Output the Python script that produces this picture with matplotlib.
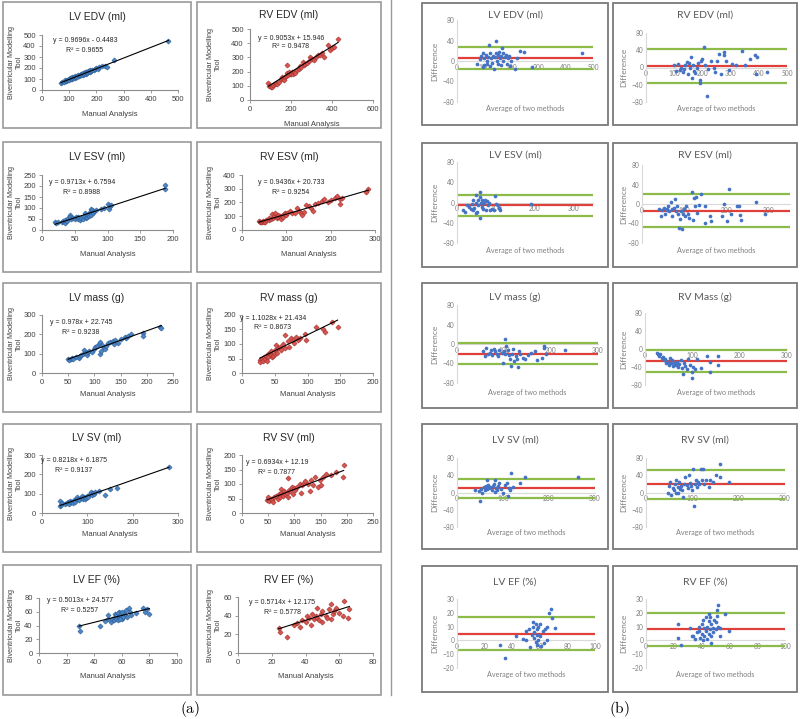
import matplotlib
matplotlib.use('Agg')
import matplotlib.pyplot as plt
from matplotlib.patches import Rectangle
from matplotlib.lines import Line2D

W, H = 800, 719
plt.rcParams['mathtext.fontset'] = 'cm'
plt.rcParams['font.family'] = ['Liberation Sans', 'DejaVu Sans']
fig = plt.figure(figsize=(8, 7.19), dpi=100)

# ---------------- DATA : regression panels (a) ----------------
lv_edv_manual = [70,72,80,85,88,90,92,95,98,100,102,105,108,110,112,115,118,120,122,125,128,130,132,135,138,140,142,145,148,150,152,155,158,160,162,165,168,170,172,175,178,180,185,190,195,200,205,210,220,230,240,265,465]
lv_edv_model = [65,75,72,90,80,85,95,88,100,92,105,98,110,100,115,108,120,112,125,118,130,122,135,128,140,132,145,138,150,140,155,148,160,150,165,158,170,162,175,168,180,172,180,185,190,200,195,205,215,220,210,275,445]
rv_edv_manual = [90,95,100,105,110,120,125,130,140,150,155,160,165,170,175,180,182,185,190,195,200,205,210,215,220,230,240,245,250,260,265,270,280,290,295,300,310,320,330,340,350,360,380,390,400,410,430]
rv_edv_model = [120,100,95,90,105,110,120,115,130,145,160,150,140,165,170,190,245,175,200,185,180,195,185,200,190,210,220,240,235,270,250,255,260,275,300,290,285,300,320,315,330,305,390,350,365,370,430]
lv_esv_manual = [20,22,25,30,32,35,35,38,40,42,43,45,47,50,52,55,55,58,60,62,64,65,67,68,70,72,73,75,75,77,78,80,82,90,95,100,102,104,106,188,188]
lv_esv_model = [35,30,38,35,40,30,45,42,55,70,60,50,55,48,58,50,60,45,55,48,65,75,55,60,70,65,80,95,70,90,75,85,90,95,100,120,95,110,115,205,185]
rv_esv_manual = [38,40,42,45,48,50,52,55,60,62,65,68,70,72,75,78,80,82,85,88,90,92,95,98,100,102,108,112,120,125,128,132,135,140,145,150,155,160,165,172,180,185,195,200,210,215,220,222,225,280,285]
rv_esv_model = [65,55,60,55,65,58,60,70,75,85,80,115,90,100,120,85,95,110,100,80,105,95,115,120,110,125,140,120,125,160,135,120,110,130,185,175,160,140,190,195,210,225,205,215,235,245,190,225,230,275,300]
lv_mass_manual = [50,52,55,58,60,65,70,72,75,78,80,82,85,88,90,95,100,102,105,108,110,110,112,115,118,120,122,125,130,135,138,140,145,150,158,160,165,170,192,193,226,228]
lv_mass_model = [75,65,70,80,72,85,80,90,95,100,120,105,95,110,115,110,125,135,140,150,160,100,115,145,130,125,140,155,160,165,150,170,155,175,185,180,190,200,205,190,240,235]
rv_mass_manual = [27,28,30,32,33,35,36,38,40,40,42,44,45,46,48,50,50,52,54,55,58,60,62,65,66,70,72,75,78,80,82,85,88,96,98,113,124,126,138,146]
rv_mass_model = [45,38,50,40,55,48,60,42,65,55,70,62,75,55,60,80,65,95,70,85,90,80,100,130,85,110,90,120,115,105,125,115,120,135,115,160,150,140,175,160]
lv_sv_manual = [40,40,42,45,50,55,58,60,62,65,68,70,72,75,78,80,82,85,88,90,92,95,98,100,102,105,108,110,112,115,118,125,140,150,165,280]
lv_sv_model = [60,35,40,50,45,50,55,45,60,55,50,65,55,70,85,75,65,80,90,75,85,70,80,90,85,100,110,95,105,100,110,115,95,125,130,240]
rv_sv_manual = [48,50,52,55,58,60,62,65,68,70,72,74,75,78,80,82,85,87,88,90,92,95,98,100,102,105,110,112,115,118,120,125,130,132,135,140,145,148,150,155,160,170,180,192,194]
rv_sv_model = [45,55,40,50,45,38,55,60,50,65,55,82,70,60,75,65,70,120,55,80,75,90,65,85,80,90,100,70,95,105,110,100,75,115,95,125,90,115,95,125,135,130,140,125,165]
lv_ef_manual = [29,30,44,48,50,50,52,53,54,55,55,56,57,58,58,59,60,60,61,62,63,64,65,66,67,70,75,77,78,80,56,57,58,59,60,61,57,59]
lv_ef_model = [40,32,40,47,50,55,45,50,48,52,57,50,55,60,52,57,53,50,58,55,63,52,65,60,55,58,66,60,64,57,56,58,54,55,59,52,48,50]
rv_ef_manual = [24,25,29,33,35,37,38,40,41,42,43,44,45,46,47,47,48,49,50,50,52,53,54,55,55,56,57,58,60,62,63,65,66]
rv_ef_model = [27,23,17,30,32,28,35,33,40,38,30,42,36,40,48,38,35,42,45,33,40,38,47,52,36,42,45,48,43,40,56,38,47]

reg_titles = ['LV EDV (ml)', 'RV EDV (ml)', 'LV ESV (ml)', 'RV ESV (ml)', 'LV mass (g)',
              'RV mass (g)', 'LV SV (ml)', 'RV SV (ml)', 'LV EF (%)', 'RV EF (%)']
reg_slopes = [0.9696, 0.9053, 0.9713, 0.9436, 0.978, 1.1028, 0.8218, 0.6934, 0.5013, 0.5714]
reg_intercepts = [-0.4483, 15.946, 6.7594, 20.733, 22.745, 21.434, 6.1875, 12.19, 24.577, 12.175]
reg_eqs = ['y = 0.9696x - 0.4483', 'y = 0.9053x + 15.946', 'y = 0.9713x + 6.7594',
           'y = 0.9436x + 20.733', 'y = 0.978x + 22.745', 'y = 1.1028x + 21.434',
           'y = 0.8218x + 6.1875', 'y = 0.6934x + 12.19', 'y = 0.5013x + 24.577',
           'y = 0.5714x + 12.175']
reg_r2 = ['R² = 0.9655', 'R² = 0.9478', 'R² = 0.8988', 'R² = 0.9254', 'R² = 0.9238',
          'R² = 0.8673', 'R² = 0.9137', 'R² = 0.7877', 'R² = 0.5257', 'R² = 0.5778']
reg_x = [lv_edv_manual, rv_edv_manual, lv_esv_manual, rv_esv_manual, lv_mass_manual,
         rv_mass_manual, lv_sv_manual, rv_sv_manual, lv_ef_manual, rv_ef_manual]
reg_y = [lv_edv_model, rv_edv_model, lv_esv_model, rv_esv_model, lv_mass_model,
         rv_mass_model, lv_sv_model, rv_sv_model, lv_ef_model, rv_ef_model]
reg_xmax = [500, 600, 200, 300, 250, 200, 300, 250, 100, 80]
reg_xstep = [100, 200, 50, 100, 50, 50, 100, 50, 20, 20]
reg_ymax = [500, 500, 250, 400, 300, 200, 300, 200, 80, 60]
reg_ystep = [100, 100, 50, 100, 100, 50, 100, 50, 20, 20]

# ---------------- DATA : Bland-Altman panels (b) ----------------
ba_lv_edv_avg = [75,85,90,95,95,100,100,105,110,112,115,118,120,122,125,130,132,135,140,142,145,148,150,152,155,158,160,162,165,168,170,175,180,185,188,190,195,200,215,220,230,245,275,460]
ba_lv_edv_diff = [-5,3,10,15,-12,5,-8,12,0,-5,8,32,-10,15,5,-3,10,-15,8,15,40,0,12,-5,18,5,10,-8,25,15,0,8,12,-5,5,10,-10,0,-15,5,20,17,-12,16]
ba_rv_edv_avg = [100,105,115,120,125,130,135,140,145,150,152,155,160,162,165,170,175,180,185,190,192,195,200,205,210,215,220,230,240,245,250,260,265,275,278,285,295,305,320,340,350,370,385,390,395,430]
ba_rv_edv_diff = [5,-8,8,-5,0,-10,-3,5,12,-15,10,0,25,-25,5,-8,-12,0,10,-30,-35,15,20,48,5,-65,-3,15,0,-10,15,32,-15,30,35,15,-5,8,5,38,5,20,30,-15,25,-10]
ba_lv_esv_avg = [15,20,25,30,35,38,40,42,45,48,50,50,52,55,55,58,60,60,62,65,65,68,70,72,75,78,80,82,85,90,95,98,100,105,108,110,190]
ba_lv_esv_diff = [-15,-18,-5,-8,-12,-3,-15,5,-10,-20,0,15,-18,5,-5,20,-30,10,0,-8,5,-12,0,5,-15,3,-5,0,-15,-12,-15,12,-3,-5,-10,-15,-3]
ba_rv_esv_avg = [40,45,48,52,55,58,60,62,65,68,70,72,75,78,80,82,85,88,90,92,95,98,100,102,105,108,112,118,120,122,125,128,130,135,140,148,150,160,162,190,195,200,205,210,225,230,232,235,270,290]
ba_rv_esv_diff = [-10,-25,-12,-8,-20,-12,-10,-5,-15,5,-25,-10,-8,10,-15,-5,-20,-50,-30,-15,-52,-20,-10,-25,-5,-20,-28,25,-32,12,-5,15,-18,-2,20,-38,-5,-25,-35,-25,0,-35,30,-20,-5,-5,-22,-32,5,-20]
ba_lv_mass_avg = [55,60,62,65,70,72,75,78,80,85,88,90,95,98,100,102,103,105,108,110,112,115,118,120,122,125,128,130,132,135,140,145,150,158,165,170,180,185,186,190,230]
ba_lv_mass_diff = [-15,-25,-8,-20,-18,-12,-22,-10,-15,-20,-25,-12,-18,-38,-15,-20,10,-5,-12,-22,-30,-45,-20,-10,-35,-25,-30,-48,-15,-20,-28,-30,-22,-18,-15,-32,-28,-5,-8,-20,-12]
ba_rv_mass_avg = [25,28,30,32,35,38,40,42,45,48,50,52,55,58,60,62,65,68,70,72,75,78,80,82,85,88,90,95,100,100,102,105,110,118,132,138,138,155,155]
ba_rv_mass_diff = [-8,-12,-15,-10,-20,-18,-25,-22,-30,-28,-35,-20,-32,-25,-38,-30,-35,-28,-40,-33,-25,-42,-55,-30,-38,-45,-22,-35,-50,-65,-40,-45,-22,-42,-15,-50,-28,-15,-35]
ba_lv_sv_avg = [40,48,50,52,55,58,60,62,65,65,68,70,72,75,78,80,82,82,85,88,90,92,95,100,105,108,110,112,115,118,122,138,148,262]
ba_lv_sv_diff = [5,3,-20,8,0,12,5,15,30,8,18,10,12,5,15,20,28,2,10,5,15,22,8,0,18,22,-8,10,5,45,12,22,35,35]
ba_rv_sv_avg = [48,50,52,55,58,60,62,65,65,68,70,72,74,75,78,80,82,85,88,90,92,95,98,100,102,104,105,108,110,112,115,118,120,122,125,130,135,138,145,150,160,160,180]
ba_rv_sv_diff = [0,15,25,-5,10,5,20,30,0,12,-2,25,8,15,5,-10,20,35,18,10,40,22,15,5,55,-32,20,30,12,25,20,55,28,55,20,30,12,28,25,40,35,65,25]
ba_lv_ef_avg = [31,35,43,48,50,50,52,53,54,55,55,56,56,57,57,58,58,58,59,59,60,60,61,62,63,64,65,65,67,68,69,71]
ba_lv_ef_diff = [-3,-13,3,1,7,0,8,-5,4,10,13,2,6,-1,12,4,8,-3,0,10,12,3,-4,7,-2,8,0,10,20,23,16,9]
ba_rv_ef_avg = [23,23,25,32,33,34,35,37,38,38,39,40,40,41,41,42,42,43,43,44,44,45,45,45,46,46,47,47,47,48,48,49,50,50,51,51,52,52,53,53,57,60]
ba_rv_ef_diff = [12,2,-3,9,3,3,1,6,10,7,2,5,12,0,15,9,3,7,17,1,10,5,14,19,8,17,3,-2,12,9,6,15,13,8,22,18,26,10,3,9,19,7]

ba_titles = ['LV EDV (ml)', 'RV EDV (ml)', 'LV ESV (ml)', 'RV ESV (ml)', 'LV mass (g)',
             'RV Mass (g)', 'LV SV (ml)', 'RV SV (ml)', 'LV EF (%)', 'RV EF (%)']
ba_avg = [ba_lv_edv_avg, ba_rv_edv_avg, ba_lv_esv_avg, ba_rv_esv_avg, ba_lv_mass_avg,
          ba_rv_mass_avg, ba_lv_sv_avg, ba_rv_sv_avg, ba_lv_ef_avg, ba_rv_ef_avg]
ba_diff = [ba_lv_edv_diff, ba_rv_edv_diff, ba_lv_esv_diff, ba_rv_esv_diff, ba_lv_mass_diff,
           ba_rv_mass_diff, ba_lv_sv_diff, ba_rv_sv_diff, ba_lv_ef_diff, ba_rv_ef_diff]
ba_mean = [5, 4, -5, -14, -20, -27, 10, 19, 5, 8]
ba_upper = [27, 43, 15, 21, 2, -2, 31, 52, 17, 20]
ba_lower = [-16, -35, -26, -48, -42, -52, -12, -16, -7, -4]
ba_xmax = [500, 500, 350, 350, 300, 300, 300, 300, 100, 100]
ba_xticks = [[0,100,200,300,400,500], [0,100,200,300,400,500], [0,100,200,300], [0,100,200,300],
             [0,100,200,300], [0,100,200,300], [0,100,200,300], [0,100,200,300],
             [0,20,40,60,80,100], [0,20,40,60,80,100]]
ba_ylim = [(-80, 80)] * 8 + [(-20, 30)] * 2
ba_yticks = [[-80,-40,0,40,80]] * 8 + [[-20,-10,0,10,20,30]] * 2

# ---------------- LAYOUT (pixels) ----------------
def fx(x):
    return x / W

def fy(y):
    return 1 - y / H

def add_ax(x0, x1, ytop, ybot):
    return fig.add_axes([fx(x0), fy(ybot), (x1 - x0) / W, (ybot - ytop) / H])

def box(x0, x1, ytop, ybot, color='#8a8a8a', lw=1.3):
    fig.patches.append(Rectangle((fx(x0), fy(ybot)), (x1 - x0) / W, (ybot - ytop) / H,
                                 transform=fig.transFigure, fill=False,
                                 edgecolor=color, linewidth=lw))

def ftext(x, y, s, **kw):
    fig.text(fx(x), fy(y), s, **kw)

left_cols = [(3, 191), (197, 381)]
left_rows = [(2, 128), (142, 272), (283, 412), (424, 552), (565, 695)]
right_cols = [(422, 608), (613, 797)]
right_rows = [(3, 125), (143, 267), (283, 408), (424, 549), (566, 692)]

reg_rects = [(42,178,35,90), (250,373,29,100), (42,173,175,230), (242,375,175,230),
             (42,173,315,373), (242,373,315,373), (42,178,455,513), (242,373,455,513),
             (39,177,598,653), (238,373,597,653)]
reg_title_y = [17, 15, 157, 157, 298, 298, 438, 438, 580, 580]
reg_eq_pos = [(85,40,51), (291,38,47), (82,182,192), (291,182,192), (81,322,332),
              (273,318,328), (74,460,470), (277,462,472), (80,600,610), (282,602,612)]
reg_xlab_y = [115, 125, 255, 255, 395, 395, 535, 535, 677, 677]
ylab_x = [15, 214]

ba_rects = [(457,593,20,102), (646,787,33,102), (457,593,162,243), (642,790,165,243),
            (457,598,305,383), (645,787,313,385), (457,595,458,527), (646,785,458,527),
            (457,595,599,668), (646,785,599,668)]
ba_title_y = [15, 15, 155, 155, 297, 297, 440, 440, 582, 582]
ba_xlab_y = [108, 108, 250, 250, 392, 392, 533, 533, 675, 675]
diff_x = [435, 624]

blue_face, blue_edge = '#4a86c8', '#2b5b92'
red_face, red_edge = '#d9534f', '#a02f2c'
BA_FONT = ['Lato', 'DejaVu Sans']

# ---------------- (a) regression panels ----------------
for i in range(10):
    r, c = divmod(i, 2)
    bx0, bx1 = left_cols[c]
    by0, by1 = left_rows[r]
    box(bx0, bx1, by0, by1, color='#9a9a9a', lw=1.2)
    x0, x1, yt, yb = reg_rects[i]
    ax = add_ax(x0, x1, yt, yb)
    face, edge = (blue_face, blue_edge) if c == 0 else (red_face, red_edge)
    xs, ys = reg_x[i], reg_y[i]
    ax.scatter(xs, ys, s=7, marker='D', facecolor=face, edgecolor=edge, linewidth=0.4, zorder=3)
    lx = [min(xs), max(xs)]
    ax.plot(lx, [reg_slopes[i] * v + reg_intercepts[i] for v in lx], color='black', lw=0.8, zorder=4)
    ax.set_xlim(0, reg_xmax[i])
    ax.set_ylim(0, reg_ymax[i])
    ax.set_xticks(range(0, reg_xmax[i] + 1, reg_xstep[i]))
    ax.set_yticks(range(0, reg_ymax[i] + 1, reg_ystep[i]))
    ax.set_facecolor('none')
    for s in ['top', 'right']:
        ax.spines[s].set_visible(False)
    for s in ['left', 'bottom']:
        ax.spines[s].set_color('#8c8c8c')
        ax.spines[s].set_linewidth(0.8)
    ax.tick_params(axis='both', length=2.5, width=0.6, color='#8c8c8c', labelsize=5.5,
                   labelcolor='#404040', pad=2)
    cx = (bx0 + bx1) / 2
    ftext(cx, reg_title_y[i], reg_titles[i], ha='center', va='center', fontsize=7.5, color='#262626')
    ex, ey1, ey2 = reg_eq_pos[i]
    ftext(ex, ey1, reg_eqs[i], ha='center', va='center', fontsize=5, color='#262626')
    ftext(ex, ey2, reg_r2[i], ha='center', va='center', fontsize=5, color='#262626')
    ftext((x0 + x1) / 2, reg_xlab_y[i], 'Manual Analysis', ha='center', va='center',
          fontsize=5.5, color='#404040')
    ftext(ylab_x[c], (yt + yb) / 2, 'Biventricular Modelling\nTool', ha='center', va='center',
          rotation=90, fontsize=5.2, color='#404040', linespacing=1.15, multialignment='center')

# separator line
fig.lines.append(Line2D([fx(391), fx(391)], [fy(0), fy(695)], transform=fig.transFigure,
                        color='#9a9a9a', lw=1.0))

# ---------------- (b) Bland-Altman panels ----------------
for i in range(10):
    r, c = divmod(i, 2)
    bx0, bx1 = right_cols[c]
    by0, by1 = right_rows[r]
    box(bx0, bx1, by0, by1, color='#7a7a7a', lw=1.3)
    x0, x1, yt, yb = ba_rects[i]
    ax = add_ax(x0, x1, yt, yb)
    xm = ba_xmax[i]
    ax.plot([0, xm], [ba_upper[i]] * 2, color='#8dbb4a', lw=1.6, zorder=2)
    ax.plot([0, xm], [ba_lower[i]] * 2, color='#8dbb4a', lw=1.6, zorder=2)
    ax.plot([0, xm], [ba_mean[i]] * 2, color='#e0403a', lw=1.6, zorder=2)
    ax.scatter(ba_avg[i], ba_diff[i], s=7, color='#4472c4', linewidth=0, zorder=3)
    ax.set_xlim(0, xm)
    ax.set_ylim(*ba_ylim[i])
    ax.set_xticks(ba_xticks[i])
    ax.set_yticks(ba_yticks[i])
    ax.set_facecolor('none')
    for s in ['top', 'right']:
        ax.spines[s].set_visible(False)
    ax.spines['bottom'].set_position(('data', 0))
    ax.spines['bottom'].set_color('#d9d9d9')
    ax.spines['left'].set_color('#d9d9d9')
    ax.spines['bottom'].set_linewidth(0.8)
    ax.spines['left'].set_linewidth(0.8)
    ax.spines['bottom'].set_zorder(1)
    ax.tick_params(axis='both', length=0, labelsize=4.8, labelcolor='#7f7f7f', pad=2)
    for lab in ax.get_xticklabels() + ax.get_yticklabels():
        lab.set_fontfamily(BA_FONT)
    cx = (bx0 + bx1) / 2
    ftext(cx, ba_title_y[i], ba_titles[i], ha='center', va='center', fontsize=7.5,
          color='#595959', family=BA_FONT)
    ftext((x0 + x1) / 2, ba_xlab_y[i], 'Average of two methods', ha='center', va='center',
          fontsize=5.2, color='#7f7f7f', family=BA_FONT)
    ftext(diff_x[c], (yt + yb) / 2, 'Difference', ha='center', va='center', rotation=90,
          fontsize=6, color='#7f7f7f', family=BA_FONT)

# sub-figure captions
ftext(190, 709, r'$\mathrm{(a)}$', ha='center', va='center', fontsize=11, color='black')
ftext(619, 709, r'$\mathrm{(b)}$', ha='center', va='center', fontsize=11, color='black')

fig.savefig('out.png', dpi=100, facecolor='white')
